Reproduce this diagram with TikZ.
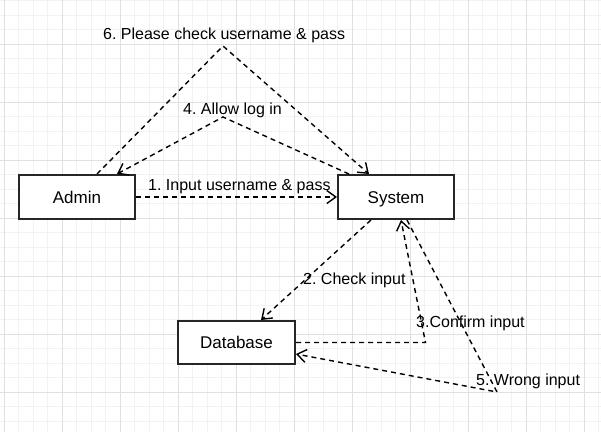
\documentclass[tikz,border=0pt]{standalone}
\usepackage{fontspec}
\setmainfont{Liberation Sans}
\usetikzlibrary{arrows.meta,calc}
\definecolor{gridmajor}{HTML}{E0E0E0}
\definecolor{gridminor}{HTML}{F2F2F2}
\frenchspacing
\begin{document}
\begin{tikzpicture}[x=1pt,y=-1pt,
  box/.style={draw=black!85, line width=2pt, minimum width=116pt, minimum height=44pt,
    inner sep=0pt, fill=white, text height=12.5pt, text depth=0pt,
    font=\fontsize{17}{20}\selectfont},
  msg/.style={draw=black, line width=1.4pt, dash pattern=on 5pt off 4pt,
    -{Straight Barb[length=9pt,width=13pt,line width=1.4pt]}},
  lbl/.style={anchor=base west, inner sep=0pt, font=\fontsize{16}{19}\selectfont},
  minorline/.style={draw=gridminor, line width=1pt},
  majorline/.style={draw=gridmajor, line width=1pt}]
\useasboundingbox[fill=white] (0,0) rectangle (601,432);
% grid
\foreach \i in {0,...,41} {\draw[minorline] ({4+14.5*\i},0) -- ({4+14.5*\i},432);}
\foreach \j in {0,...,29} {\draw[minorline] (0,{0.8+14.5*\j}) -- (601,{0.8+14.5*\j});}
\foreach \i in {0,...,10} {\draw[majorline] ({4+58*\i},0) -- ({4+58*\i},432);}
\foreach \j in {0,...,7} {\draw[majorline] (0,{44.3+58*\j}) -- (601,{44.3+58*\j});}
% nodes
\node[box] (admin) at (77,197) {Admin};
\node[box] (system) at (396,197) {System};
\node[box, minimum width=117pt, minimum height=43pt] (database) at (236.5,342.5) {Database};
% waypoints
\coordinate (w3) at (425.5,342.5);
\coordinate (w4) at (223,117);
\coordinate (w5) at (497,392);
\coordinate (w6) at (223,46);
% connectors
\draw[msg] (admin.east) -- (system.west);
\draw[msg] ($(system.south west)+(34,0)$) -- ($(database.north west)+(84,0)$);
\draw[msg] (database.east) -- (w3) -- ($(system.south west)+(64,0)$);
\draw[msg] ($(system.north west)+(12,0)$) -- (w4) -- ($(admin.north west)+(99,0)$);
\draw[msg] ($(system.south west)+(70,0)$) -- (w5) -- ($(database.east)+(0,11.5)$);
\draw[msg] ($(admin.north west)+(79,0)$) -- (w6) -- ($(system.north west)+(32,0)$);
% labels
\node[lbl] (l6) at (103,39) {6. Please check username \& pass};
\node[lbl] (l4) at (183,114.3) {4. Allow log in};
\node[lbl] (l1) at (148,190) {1. Input username \& pass};
\node[lbl] (l2) at (303,284) {2. Check input};
\node[lbl] (l3) at (416,327.3) {3.Confirm input};
\node[lbl] (l5) at (476,385.3) {5. Wrong input};
\end{tikzpicture}
\end{document}
